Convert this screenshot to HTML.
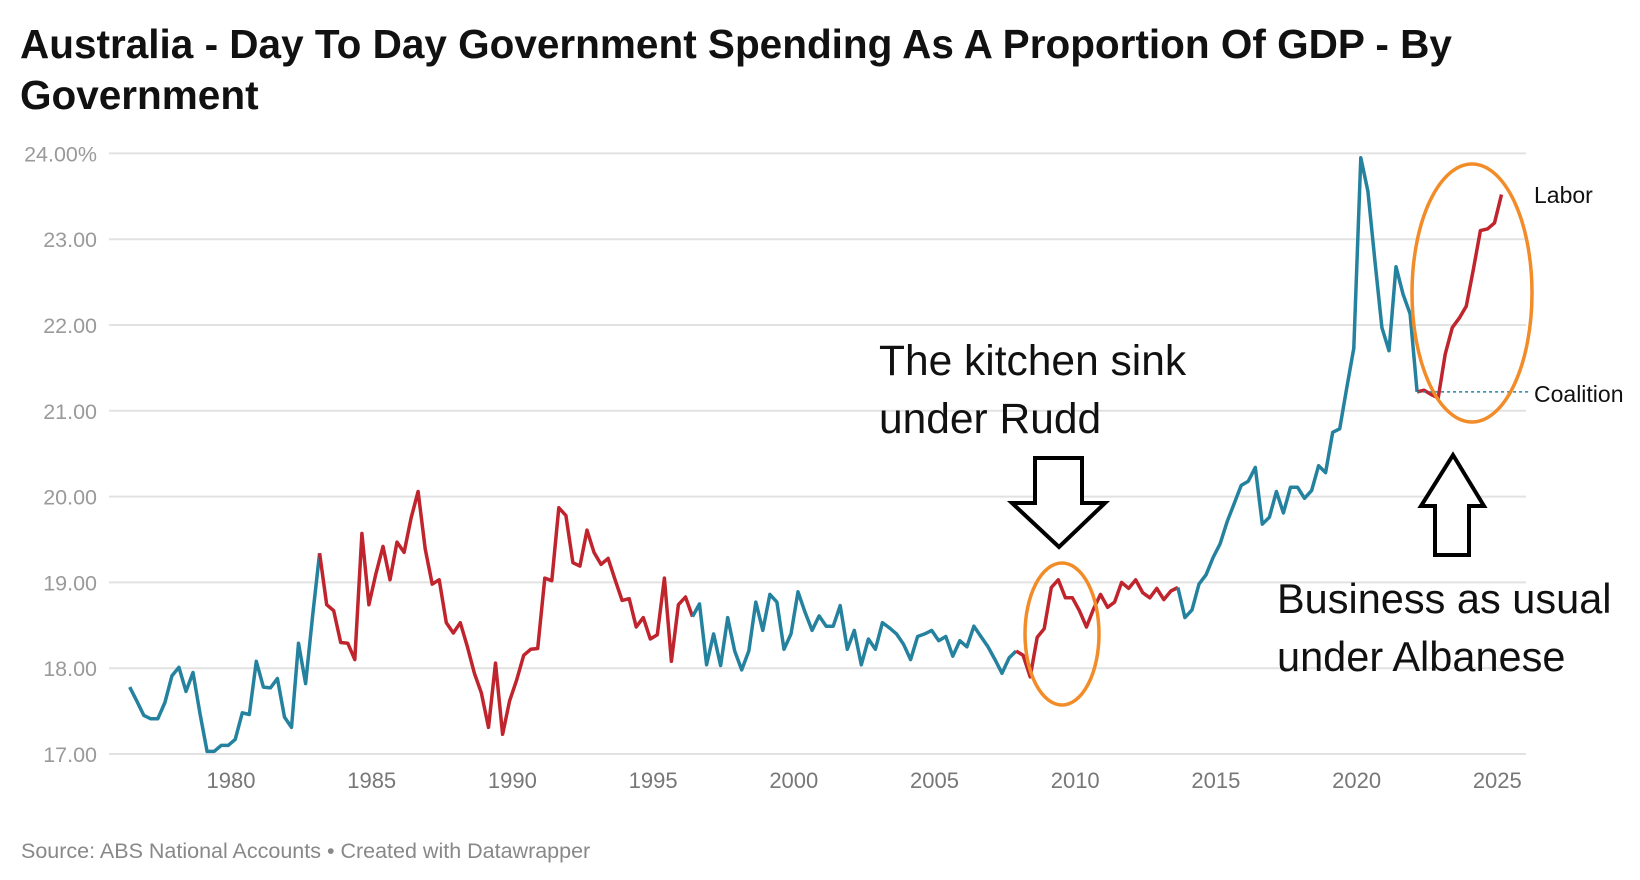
<!DOCTYPE html>
<html><head><meta charset="utf-8"><style>
html,body{margin:0;padding:0;background:#fff;width:1640px;height:880px;overflow:hidden}
svg text{font-family:"Liberation Sans",sans-serif}
</style></head><body>
<svg width="1640" height="880" viewBox="0 0 1640 880">
<text x="20" y="58" font-size="40.5" font-weight="bold" fill="#111">Australia - Day To Day Government Spending As A Proportion Of GDP - By</text>
<text x="20" y="109" font-size="40.5" font-weight="bold" fill="#111">Government</text>
<g id="grid"></g><g id="xaxis"></g><g id="lines"></g>
<ellipse cx="1062" cy="634" rx="37" ry="71" fill="none" stroke="#f28c28" stroke-width="3.5"/>
<ellipse cx="1472" cy="293" rx="60" ry="129" fill="none" stroke="#f28c28" stroke-width="3.5"/>
<text x="879" y="375" font-size="42.5" fill="#111">The kitchen sink</text>
<text x="879" y="433" font-size="42.5" fill="#111">under Rudd</text>
<text x="1277" y="613" font-size="41.5" fill="#111">Business as usual</text>
<text x="1277" y="671" font-size="41.5" fill="#111">under Albanese</text>
<polygon points="1035,458 1082,458 1082,503 1105,503 1059,547 1012,503 1035,503" fill="#fff" stroke="#000" stroke-width="4"/>
<polygon points="1453,455 1484,506 1469,506 1469,555 1435,555 1435,506 1421,506" fill="#fff" stroke="#000" stroke-width="4"/>
<text x="1534" y="203" font-size="23" fill="#111">Labor</text>
<text x="1534" y="402" font-size="23" fill="#111">Coalition</text>
<text x="21" y="858" font-size="21.5" fill="#888">Source: ABS National Accounts • Created with Datawrapper</text>
</svg>
<script>
const startYear = 1976.4;
const values = [17.78,17.62,17.45,17.41,17.41,17.6,17.91,18.01,17.73,17.95,17.47,17.03,17.03,17.1,17.1,17.17,17.48,17.46,18.08,17.78,17.77,17.88,17.43,17.31,18.29,17.82,18.61,19.34,
18.74,18.67,18.3,18.29,18.1,19.57,18.74,19.1,19.42,19.03,19.47,19.35,19.75,20.06,19.39,18.98,19.03,18.53,18.41,18.53,18.25,17.94,17.71,17.31,18.06,17.23,17.62,17.86,18.15,18.22,18.23,19.05,19.02,19.87,19.78,19.23,19.19,19.61,19.35,19.21,19.28,19.03,18.79,18.81,18.48,18.59,18.34,18.39,19.05,18.08,18.74,18.83,18.6,
18.75,18.04,18.4,18.03,18.59,18.2,17.98,18.2,18.77,18.44,18.86,18.77,18.22,18.4,18.89,18.65,18.44,18.61,18.49,18.49,18.73,18.22,18.44,18.04,18.34,18.22,18.53,18.47,18.4,18.28,18.1,18.37,18.4,18.44,18.32,18.37,18.14,18.32,18.25,18.49,18.37,18.25,18.1,17.94,18.12,18.2,
18.15,17.9,18.36,18.46,18.94,19.03,18.82,18.82,18.67,18.48,18.69,18.86,18.71,18.77,19.0,18.93,19.03,18.88,18.82,18.93,18.8,18.9,18.94,
18.59,18.68,18.98,19.09,19.29,19.45,19.71,19.92,20.13,20.18,20.34,19.68,19.76,20.06,19.81,20.11,20.11,19.98,20.07,20.36,20.28,20.75,20.79,21.27,21.73,23.95,23.56,22.75,21.97,21.7,22.68,22.36,22.13,21.22,
21.24,21.19,21.15,21.66,21.97,22.08,22.22,22.65,23.1,23.12,23.19,23.52];
const partyRuns = ["Coalition","Labor","Coalition","Labor","Coalition","Labor"];
const runLengths = [28,53,46,23,34,12];
const yTicks = [17,18,19,20,21,22,23,24];
const yTickLabels = ["17.00","18.00","19.00","20.00","21.00","22.00","23.00","24.00%"];
const xTicks = [1980,1985,1990,1995,2000,2005,2010,2015,2020,2025];

const NS="http://www.w3.org/2000/svg";
const xS = yr => 231 + (yr-1980)*28.14;
const yS = v => 754 - (v-17)*85.8;
const X0=109, X1=1526;
const colors={Coalition:"#25829f",Labor:"#c0242c"};
function mk(tag,attrs,parent){const e=document.createElementNS(NS,tag);for(const k in attrs)e.setAttribute(k,attrs[k]);parent.appendChild(e);return e;}
const grid=document.getElementById('grid');
yTicks.forEach((t,i)=>{
  const l=mk('line',{x1:X0,x2:X1,y1:yS(t),y2:yS(t),stroke:'#e2e2e2','stroke-width':2},grid);
  
  
  const tx=mk('text',{x:97,y:yS(t)+8,'text-anchor':'end','font-size':21.5,fill:'#9a9a9a'},grid);
  tx.textContent=yTickLabels[i];
  
  
});
const xa=document.getElementById('xaxis');
xTicks.forEach(t=>{
  const tx=mk('text',{x:xS(t),y:788,'text-anchor':'middle','font-size':22,fill:'#777'},xa);
  tx.textContent=t;
  
  
});
const lines=document.getElementById('lines');
let idx=0;
partyRuns.forEach((p,r)=>{
  const s=Math.max(0,idx-1), e=idx+runLengths[r];
  let d='';
  for(let i=s;i<e && i<values.length;i++){d+=(i===s?'M':'L')+xS(startYear+i*0.25).toFixed(1)+','+yS(values[i]).toFixed(1);}
  const path=mk('path',{d:d,fill:'none',stroke:colors[p],'stroke-width':3.5,'stroke-linejoin':'round'},lines);
  
  
  idx=e;
});
let lastC=0;idx=0;
partyRuns.forEach((p,r)=>{idx+=runLengths[r];if(p==="Coalition")lastC=idx-1;});
const dl=mk('line',{x1:xS(startYear+lastC*0.25),x2:1530,y1:yS(values[lastC]),y2:yS(values[lastC]),stroke:colors.Coalition,'stroke-width':1.5,'stroke-dasharray':'3,3'},lines);


</script>
</body></html>
